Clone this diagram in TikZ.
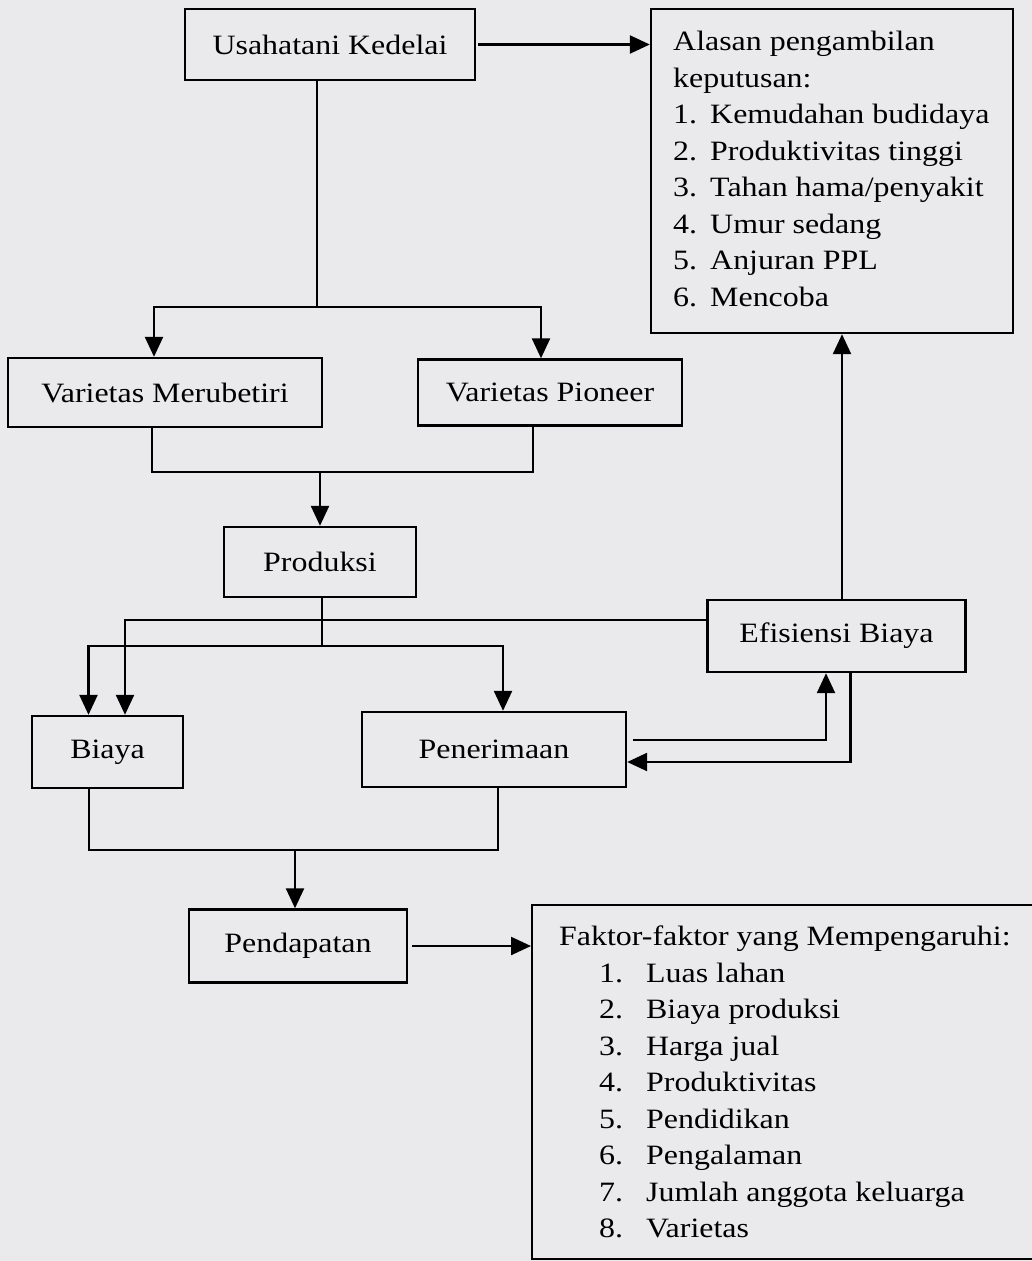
\documentclass[tikz,border=0pt]{standalone}
\usepackage{fontspec}
\setmainfont[FakeStretch=1.14]{Liberation Serif}
\usetikzlibrary{arrows.meta,calc}
\definecolor{paper}{RGB}{234,234,236}
\begin{document}
\begin{tikzpicture}[x=1pt,y=-1pt,
  box/.style={draw, line width=2.4pt, inner sep=0pt, font=\fontsize{28}{36.5}\selectfont},
  arr/.style={line width=2.4pt, -{Triangle[length=20pt,width=18pt]}},
  ln/.style={line width=2.4pt},
  lst/.style={anchor=north west, inner sep=0pt, align=left, font=\fontsize{28}{36.5}\selectfont}]
\fill[paper] (0,0) rectangle (1032,1261);
\clip (0,0) rectangle (1032,1261);

\node[box, minimum width=290pt, minimum height=71pt] (usaha) at (330,44.5) {Usahatani Kedelai};
\node[box, minimum width=362pt, minimum height=324pt] (alasan) at (832,171) {};
\node[lst] (alasanT) at (673,31) {Alasan pengambilan\\keputusan:\\
\makebox[37pt][l]{1.}Kemudahan budidaya\\
\makebox[37pt][l]{2.}Produktivitas tinggi\\
\makebox[37pt][l]{3.}Tahan hama/penyakit\\
\makebox[37pt][l]{4.}Umur sedang\\
\makebox[37pt][l]{5.}Anjuran PPL\\
\makebox[37pt][l]{6.}Mencoba};
\node[box, minimum width=314pt, minimum height=69pt] (meru) at (165,392.5) {Varietas Merubetiri};
\node[box, minimum width=264pt, minimum height=66pt] (pion) at (550,392.5) {Varietas Pioneer};
\node[box, minimum width=192pt, minimum height=70pt] (prod) at (320,562) {Produksi};
\node[box, minimum width=258pt, minimum height=72pt] (efis) at (836.5,636) {Efisiensi Biaya};
\node[box, minimum width=151pt, minimum height=72pt] (biaya) at (107.5,752) {Biaya};
\node[box, minimum width=264pt, minimum height=75pt] (pener) at (494,749.5) {Penerimaan};
\node[box, minimum width=218pt, minimum height=73pt] (pend) at (298,946) {Pendapatan};
\node[box, minimum width=510pt, minimum height=354pt, anchor=north west] (faktor) at (531,904) {};
\node[lst] (faktorT) at (559,926) {Faktor-faktor yang Mempengaruhi:\\
\hspace*{40pt}\makebox[47pt][l]{1.}Luas lahan\\
\hspace*{40pt}\makebox[47pt][l]{2.}Biaya produksi\\
\hspace*{40pt}\makebox[47pt][l]{3.}Harga jual\\
\hspace*{40pt}\makebox[47pt][l]{4.}Produktivitas\\
\hspace*{40pt}\makebox[47pt][l]{5.}Pendidikan\\
\hspace*{40pt}\makebox[47pt][l]{6.}Pengalaman\\
\hspace*{40pt}\makebox[47pt][l]{7.}Jumlah anggota keluarga\\
\hspace*{40pt}\makebox[47pt][l]{8.}Varietas};

% connectors
\draw[arr] ([xshift=2pt]usaha.east) -- (usaha.east -| alasan.west);
\coordinate (j1) at (317,307);
\draw[ln] (usaha.south -| j1) -- (j1);
\draw[arr] (j1) -| ([xshift=-11pt]meru.north);
\draw[arr] (j1) -| ([xshift=-9pt]pion.north);

\coordinate (j2) at (320,472);
\draw[ln] ([xshift=-13pt]meru.south) |- (j2);
\draw[ln] ([xshift=-17pt]pion.south) |- (j2);
\draw[arr] (j2) -- (prod.north);

\coordinate (j3) at (322,646);
\draw[ln] (prod.south -| j3) -- (j3);
\draw[arr] (j3) -| ([xshift=-19pt]biaya.north);
\draw[arr] (j3) -| ([xshift=9pt]pener.north);
\draw[arr] ([yshift=16pt]efis.west) -| ([xshift=17.5pt]biaya.north);

\draw[arr] ([xshift=5.5pt]efis.north) -- ([xshift=5.5pt]efis.north |- alasan.south);
\draw[arr] ([xshift=6pt,yshift=9.5pt]pener.east) -| ([xshift=-10.5pt]efis.south);
\draw[arr] ([xshift=14pt]efis.south) |- ([yshift=-12.5pt]pener.east);

\coordinate (j4) at (295,850);
\draw[ln] ([xshift=-18.5pt]biaya.south) |- (j4);
\draw[ln] ([xshift=4pt]pener.south) |- (j4);
\draw[arr] (j4) -- (pend.north -| j4);
\draw[arr] ([xshift=4pt]pend.east) -- (pend.east -| faktor.west);
\end{tikzpicture}
\end{document}
